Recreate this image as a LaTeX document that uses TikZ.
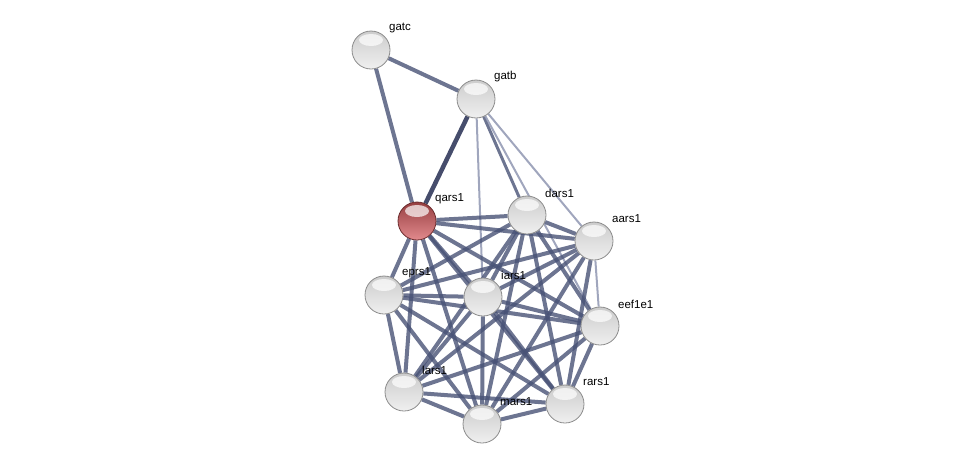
\documentclass[tikz,border=0pt]{standalone}
\usepackage{fontspec}
\setmainfont{Liberation Sans}
\usetikzlibrary{
  backgrounds, % Kanten hinter den Knoten
  shadings % Kugeln
}

\definecolor{kante}{RGB}{72,82,118}
\definecolor{kantehell}{RGB}{150,156,182}
\definecolor{kantedunkel}{RGB}{50,58,92}
\definecolor{rot}{RGB}{214,88,92}

\begin{document}
\begin{tikzpicture}[
      x=1pt, y=-1pt, % Pixelkoordinaten
      ball/.style={circle, minimum size=38pt, inner sep=0pt,
        top color=gray!40, middle color=gray!42, bottom color=gray!12,
        draw=gray!90, line width=0.8pt}, % Proteinknoten
      query/.style={ball, top color=rot!70!black, middle color=rot, bottom color=rot!70!white,
        draw=rot!50!black}, % Abfrageknoten
      lbl/.style={anchor=west, inner sep=0pt, font=\fontsize{11.5}{13}\selectfont}, % Beschriftung
      edge/.style={kante, line width=4pt, opacity=0.8}, % Kante
      weak/.style={kantehell, line width=2pt, opacity=0.9}, % schwache Kante
      strong/.style={kantedunkel, line width=4.5pt, opacity=0.9}, % starke Kante
    ]

    \useasboundingbox (0,0) rectangle (975,469);

    % Knoten
    \node[ball] (gatc) at (371,50) {};
    \node[ball] (gatb) at (476,99) {};
    \node[query] (qars1) at (417,221) {};
    \node[ball] (dars1) at (527,215) {};
    \node[ball] (aars1) at (594,241) {};
    \node[ball] (eprs1) at (384,295) {};
    \node[ball] (iars1) at (483,297) {};
    \node[ball] (eef1e1) at (600,326) {};
    \node[ball] (lars1) at (404,392) {};
    \node[ball] (mars1) at (482,424) {};
    \node[ball] (rars1) at (565,404) {};

    % Glanzpunkte
    \foreach \n in {gatc, gatb, qars1, dars1, aars1, eprs1, iars1, eef1e1, lars1, mars1, rars1}
    \fill[white, opacity=0.7] ([yshift=10pt]\n.center) ellipse (12pt and 6pt);

    % Beschriftungen
    \foreach \n in {gatc, gatb, qars1, dars1, aars1, eprs1, iars1, eef1e1, lars1, mars1, rars1}
    \node[lbl] (\n-l) at ([shift={(18pt,22pt)}]\n.center) {\n};

    % Kanten
    \begin{scope}[on background layer]
      \draw[edge] (gatc) -- (gatb);
      \draw[edge] (gatc) -- (qars1);
      \draw[strong] (gatb) -- (qars1);
      \draw[edge, line width=3pt] (gatb) -- (dars1);
      \foreach \j in {iars1, aars1, eef1e1}
      \draw[weak] (gatb) -- (\j);
      \draw[weak] (aars1) -- (eef1e1);

      % Synthetase-Komplex, jeder mit jedem
      \foreach \a [count=\i] in {qars1, dars1, aars1, eprs1, iars1, eef1e1, lars1, mars1, rars1}
      \foreach \b [count=\j] in {qars1, dars1, aars1, eprs1, iars1, eef1e1, lars1, mars1, rars1}
      {
        \ifnum\j>\i
          \ifnum\i\j=36 \else
            \draw[edge] (\a) -- (\b);
          \fi
        \fi
      }
    \end{scope}
  \end{tikzpicture}
\end{document}
